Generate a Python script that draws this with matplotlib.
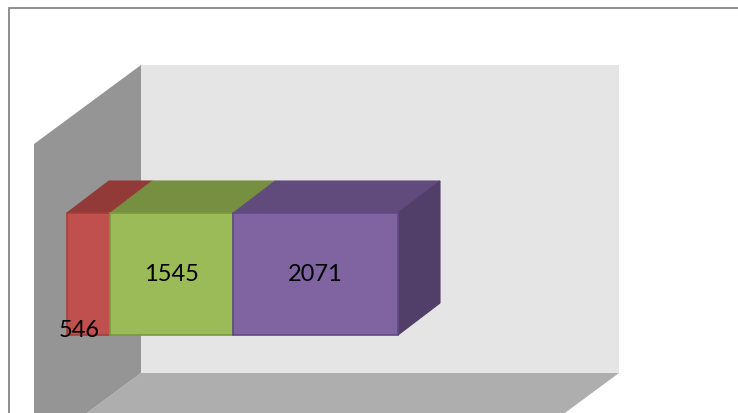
import matplotlib

matplotlib.use("Agg")
import matplotlib.pyplot as plt
from matplotlib.patches import Polygon, Rectangle

# data
series = ["Series 1", "Series 2", "Series 3"]
values = [546, 1545, 2071]
labels = ["546", "1545", "2071"]

front_colors = ["#c0504d", "#9bbb59", "#8064a2"]
top_colors = ["#923a38", "#778f41", "#604b7c"]
edge_colors = ["#a3403d", "#7a9a3f", "#5f4a80"]
side_color = "#523f69"

W, H = 738, 414
BAR_H = 0.6

# pixel <-> data mapping (value 0 at px 67, bar centre at px 275)
X0_PX, YC_PX = 67, 275
PX = sum(values) / 331.0      # value units per pixel
PY = BAR_H / 122.0            # category units per pixel


def px(xp, yp):
    return ((xp - X0_PX) * PX, (YC_PX - yp) * PY)


DX, DY = 42 * PX, 32 * PY     # bar depth offset

fig = plt.figure(figsize=(W / 100, H / 100), dpi=100)
ax = fig.add_axes([0, 0, 1, 1])
ax.set_xlim(px(0, 0)[0], px(W, 0)[0])
ax.set_ylim(px(0, H)[1], px(0, 0)[1])
ax.axis("off")

# walls and floor
ax.add_patch(Polygon([px(141, 66), px(619, 66), px(619, 374), px(141, 374)],
                     closed=True, facecolor="#e5e5e5", edgecolor="none", zorder=1))
ax.add_patch(Polygon([px(141, 374), px(619, 374), px(512, 453), px(34, 453)],
                     closed=True, facecolor="#aeaeae", edgecolor="none", zorder=1))
ax.add_patch(Polygon([px(34, 145), px(141, 66), px(141, 374), px(34, 453)],
                     closed=True, facecolor="#959595", edgecolor="none", zorder=2))

# stacked 3d bar
lefts = [sum(values[:i]) for i in range(len(values))]
h2 = BAR_H / 2
for i, (l, v) in enumerate(zip(lefts, values)):
    ax.add_patch(Polygon([(l, h2), (l + v, h2), (l + v + DX, h2 + DY), (l + DX, h2 + DY)],
                         closed=True, facecolor=top_colors[i],
                         edgecolor=top_colors[i], lw=0.8, zorder=3))
r = sum(values)
ax.add_patch(Polygon([(r, -h2), (r, h2), (r + DX, h2 + DY), (r + DX, -h2 + DY)],
                     closed=True, facecolor=side_color, edgecolor=side_color,
                     lw=0.8, zorder=3))
ax.barh([0] * len(values), values, left=lefts, height=BAR_H,
        color=front_colors, edgecolor=edge_colors, linewidth=1.2, zorder=4)

# data labels
for i, (l, v) in enumerate(zip(lefts, values)):
    if i == 0:
        ax.annotate(labels[i], (l + v / 2, -h2), xytext=(-7, 4),
                    textcoords="offset points", ha="center", va="center",
                    fontsize=17, family="Lato", color="black", zorder=6)
    else:
        ax.text(l + v / 2, 0, labels[i], ha="center", va="center",
                fontsize=17, family="Lato", color="black", zorder=6)

# chart area border
fig.patches.append(Rectangle((9 / W, -0.1), 1.2, (H - 9) / H + 0.1,
                             transform=fig.transFigure, fill=False,
                             edgecolor="#868686", lw=1.3))

fig.savefig("out.png", dpi=100)
